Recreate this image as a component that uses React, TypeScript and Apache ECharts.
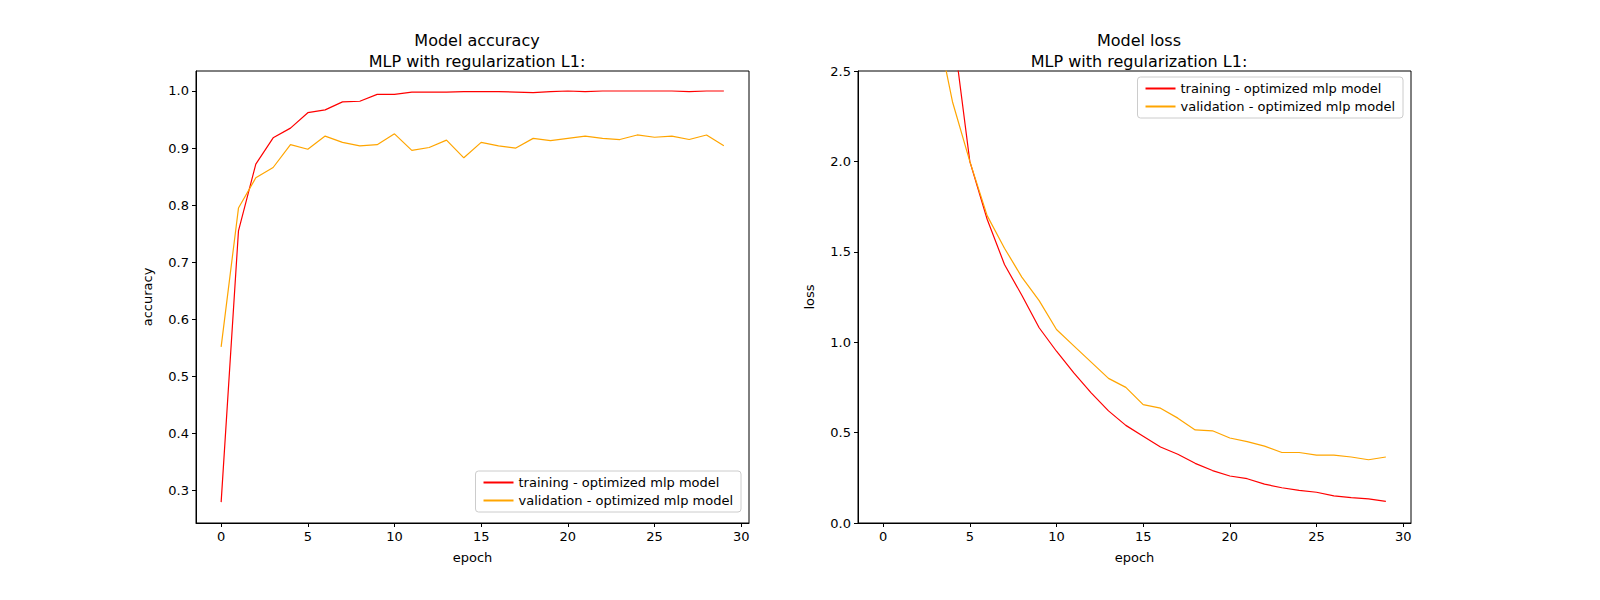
import { useEffect, useRef } from 'react';
import * as echarts from 'echarts';

const epochs = Array.from({ length: 30 }, (_, i) => i);
const accTrain = [0.28, 0.755, 0.872, 0.918, 0.935, 0.962, 0.967, 0.981, 0.982, 0.994, 0.994, 0.998, 0.998, 0.998, 0.999, 0.999, 0.999, 0.998, 0.997, 0.999, 1.0, 0.999, 1.0, 1.0, 1.0, 1.0, 1.0, 0.999, 1.0, 1.0];
const accVal = [0.552, 0.795, 0.848, 0.866, 0.906, 0.898, 0.921, 0.91, 0.904, 0.906, 0.925, 0.896, 0.901, 0.914, 0.883, 0.91, 0.904, 0.9, 0.917, 0.913, 0.917, 0.921, 0.917, 0.915, 0.923, 0.919, 0.921, 0.915, 0.923, 0.904];
const lossTrain = [9.0, 6.5, 4.8, 3.6, 2.75, 2.0, 1.68, 1.43, 1.26, 1.08, 0.95, 0.83, 0.72, 0.62, 0.54, 0.48, 0.42, 0.38, 0.33, 0.29, 0.26, 0.245, 0.215, 0.195, 0.18, 0.17, 0.15, 0.14, 0.133, 0.12];
const lossVal = [6.0, 4.5, 3.5, 2.8, 2.33, 2.0, 1.7, 1.52, 1.36, 1.23, 1.07, 0.98, 0.89, 0.8, 0.75, 0.655, 0.635, 0.58, 0.515, 0.51, 0.47, 0.45, 0.425, 0.39, 0.39, 0.375, 0.375, 0.365, 0.35, 0.365];
const xTicks = [0, 5, 10, 15, 20, 25, 30];
const accTicks = [0.3, 0.4, 0.5, 0.6, 0.7, 0.8, 0.9, 1.0];

const TRAIN = 'training - optimized mlp model';
const VAL = 'validation - optimized mlp model';

export default function App() {
    const ref = useRef<HTMLDivElement>(null);

    useEffect(() => {
        if (!ref.current) return;
        const chart = echarts.init(ref.current, null, { renderer: 'svg' });
        const font = 'DejaVu Sans';
        const txt = { fontFamily: font, color: '#000', fontSize: 13 };
        const line = { lineStyle: { color: '#000', width: 1 } };
        const titleStyle = { fontFamily: font, fontSize: 16, fontWeight: 'normal', color: '#000', lineHeight: 21 };

        const xAxis = (gridIndex: number) => ({
            type: 'value', gridIndex, min: -1.45, max: 30.45,
            name: 'epoch', nameLocation: 'middle', nameGap: 28, nameTextStyle: txt,
            axisLine: { ...line, onZero: false },
            axisTick: { customValues: xTicks, length: 4, lineStyle: { color: '#000' } },
            axisLabel: { customValues: xTicks, ...txt, margin: 7 },
            splitLine: { show: false },
        });
        const mk = (name: string, data: number[], color: string, xi: number) => ({
            name, type: 'line', xAxisIndex: xi, yAxisIndex: xi, symbol: 'none', clip: true,
            data: epochs.map((e, i) => [e, data[i]]),
            lineStyle: { color, width: 1.2 }, itemStyle: { color },
        });
        const legend = (extra: any) => ({
            ...extra, orient: 'vertical', data: [TRAIN, VAL],
            backgroundColor: '#fff', borderColor: '#ccc', borderWidth: 1, borderRadius: 3,
            padding: [5, 8], itemGap: 5, itemWidth: 30, itemHeight: 2,
            textStyle: txt, icon: 'rect',
        });

        chart.setOption({
            animation: false,
            title: [
                { text: 'Model accuracy\nMLP with regularization L1:', left: 472, top: 25, textAlign: 'center', textStyle: titleStyle },
                { text: 'Model loss\nMLP with regularization L1:', left: 1134, top: 25, textAlign: 'center', textStyle: titleStyle },
            ],
            grid: [
                { left: 196, right: 851, top: 71, bottom: 77, show: true, borderColor: '#000', borderWidth: 1 },
                { left: 858, right: 189, top: 71, bottom: 77, show: true, borderColor: '#000', borderWidth: 1 },
            ],
            xAxis: [xAxis(0), xAxis(1)],
            yAxis: [
                {
                    type: 'value', gridIndex: 0, min: 0.2435, max: 1.035,
                    name: 'accuracy', nameLocation: 'middle', nameGap: 42, nameTextStyle: txt,
                    axisLine: { show: true, ...line, onZero: false },
                    axisTick: { show: true, customValues: accTicks, length: 4, lineStyle: { color: '#000' } },
                    axisLabel: { customValues: accTicks, ...txt, margin: 7, formatter: (v: number) => v.toFixed(1) },
                    splitLine: { show: false },
                },
                {
                    type: 'value', gridIndex: 1, min: 0, max: 2.5, interval: 0.5,
                    name: 'loss', nameLocation: 'middle', nameGap: 42, nameTextStyle: txt,
                    axisLine: { show: true, ...line, onZero: false },
                    axisTick: { show: true, length: 4, lineStyle: { color: '#000' } },
                    axisLabel: { ...txt, margin: 7, formatter: (v: number) => v.toFixed(1) },
                    splitLine: { show: false },
                },
            ],
            legend: [
                legend({ right: 859, bottom: 88 }),
                legend({ right: 197, top: 77 }),
            ],
            series: [
                mk(TRAIN, accTrain, '#ff0000', 0),
                mk(VAL, accVal, '#ffa500', 0),
                mk(TRAIN, lossTrain, '#ff0000', 1),
                mk(VAL, lossVal, '#ffa500', 1),
            ],
        });
        return () => chart.dispose();
    }, []);

    return <div ref={ref} style={{ position: 'fixed', top: 0, left: 0, width: 1600, height: 600, background: '#fff' }} />;
}
